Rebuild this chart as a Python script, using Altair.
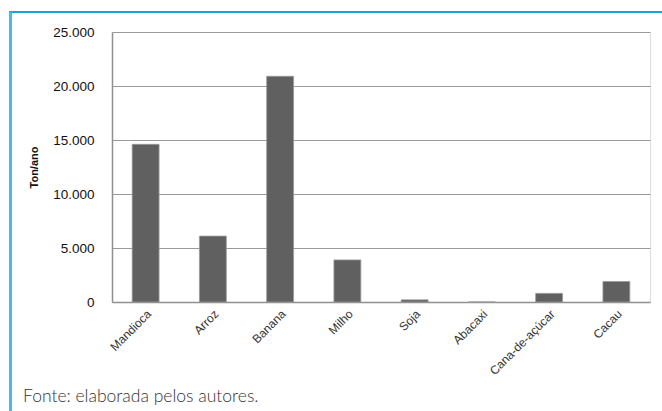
import altair as alt
import pandas as pd

culturas = ["Mandioca", "Arroz", "Banana", "Milho", "Soja", "Abacaxi", "Cana-de-açúcar", "Cacau"]
ton_ano = [14600, 6100, 20900, 3900, 200, 0, 800, 1900]
y_ticks = [0, 5000, 10000, 15000, 20000, 25000]
fonte = "Fonte: elaborada pelos autores."

df = pd.DataFrame({"cultura": culturas, "ton": ton_ano})

W, H = 538, 270

bars = alt.Chart(df).mark_bar(color="#606060", stroke="#9a9a9a", strokeWidth=0.8).encode(
    x=alt.X("cultura:N", sort=culturas, title=None,
            scale=alt.Scale(paddingInner=0.6, paddingOuter=0.3),
            axis=alt.Axis(labelAngle=-45, labelAlign="right", labelBaseline="top",
                          labelFont="Liberation Sans", labelFontSize=12, labelColor="#333",
                          ticks=False, domainColor="#909090", domainWidth=1.5, labelPadding=6,
                          grid=False)),
    y=alt.Y("ton:Q", title="Ton/ano",
            scale=alt.Scale(domain=[0, 25000], nice=False),
            axis=alt.Axis(values=y_ticks, labelExpr="replace(format(datum.value, ',d'), ',', '.')",
                          labelFont="Liberation Sans", labelFontSize=13.5, labelColor="#111",
                          ticks=False, labelPadding=18, domainColor="#909090", domainWidth=1.5,
                          gridColor="#9a9a9a", gridWidth=1.2,
                          titleFont="Liberation Sans", titleFontSize=11, titleFontWeight="bold",
                          titleColor="#111", titlePadding=13)),
)

border_top = alt.Chart(df).mark_rule(color="#1aa3dd", strokeWidth=1.2).encode(
    x=alt.value(-103), x2=alt.value(550), y=alt.value(-20)
)
border_left = alt.Chart(df).mark_rule(color="#4cb8e4", strokeWidth=2).encode(
    x=alt.value(-101.5), y=alt.value(-20), y2=alt.value(379)
)
footer = alt.Chart(pd.DataFrame({"t": [fonte]})).mark_text(
    align="left", baseline="alphabetic", font="Lato", fontSize=17.5, fontWeight=300, color="#333"
).encode(x=alt.value(-89), y=alt.value(370), text="t:N")

chart = alt.layer(bars, border_top, border_left, footer).properties(
    width=W, height=H,
    autosize=alt.AutoSizeParams(type="none"),
    padding={"left": 112, "top": 32, "right": 12, "bottom": 109},
).configure_view(stroke=None).configure(background="white")

chart.save("out.html", embed_options={"renderer": "svg", "actions": False})
